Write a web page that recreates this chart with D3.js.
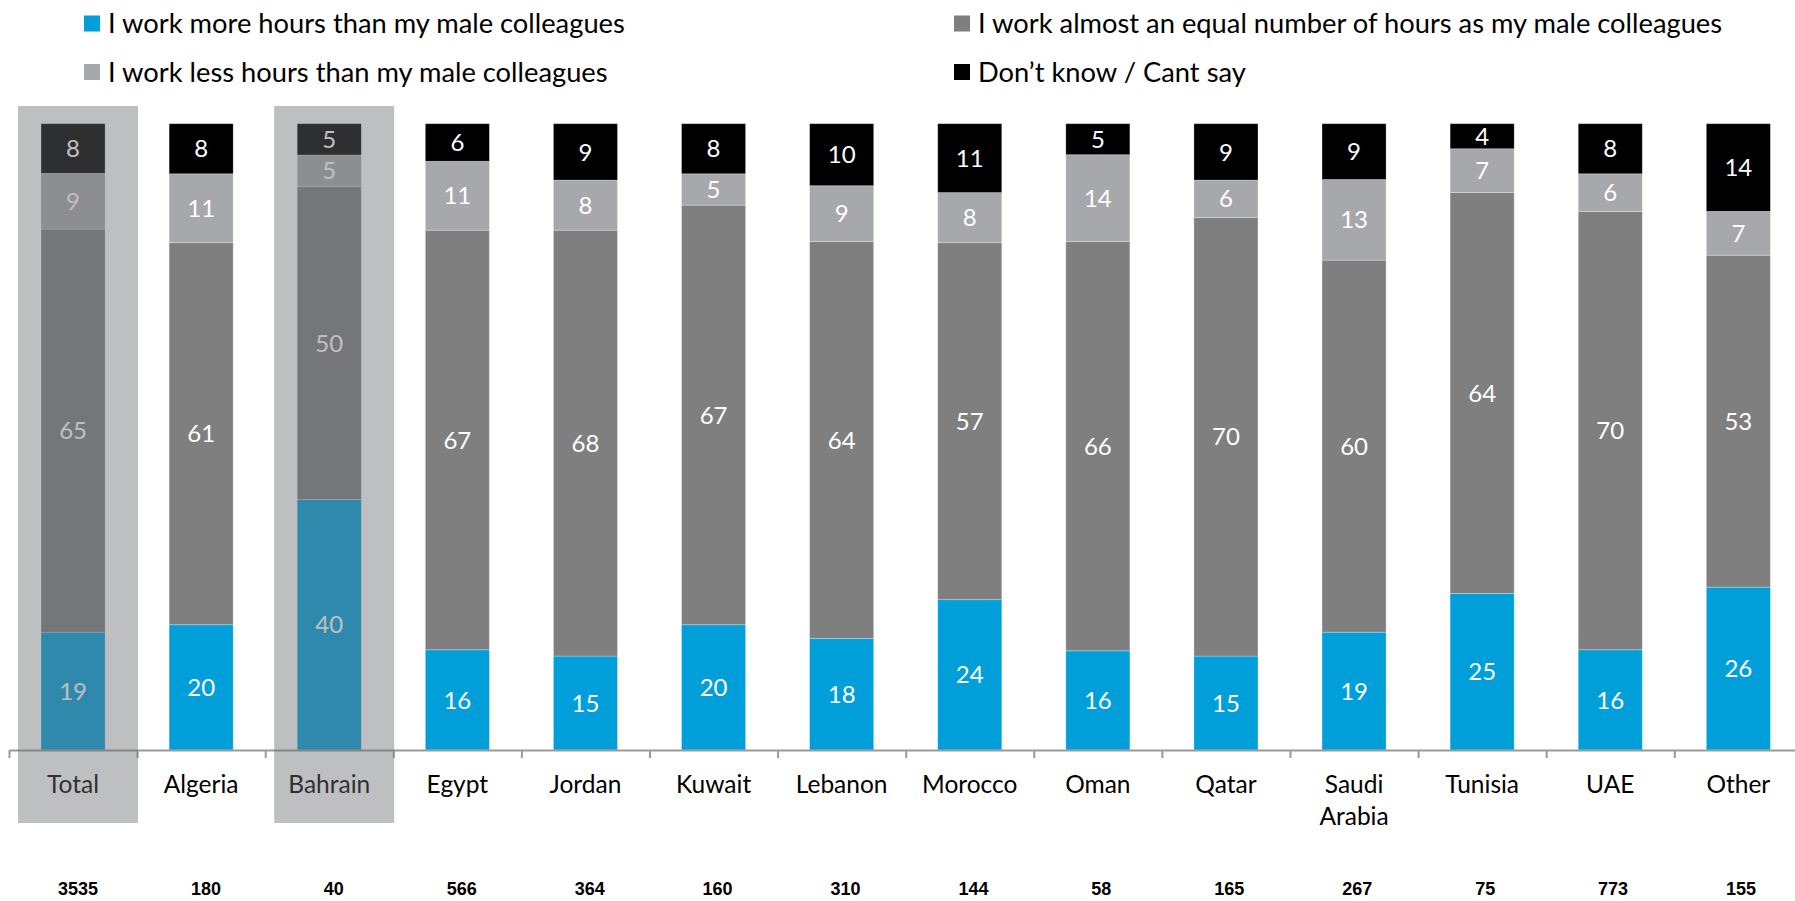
<!DOCTYPE html>
<html>
<head>
<meta charset="utf-8">
<script src="https://cdn.jsdelivr.net/npm/d3@7"></script>
<style>
  body { margin: 0; background: #ffffff; }
  svg { display: block; }
</style>
</head>
<body>
<svg id="chart" width="1795" height="901"></svg>
<script>
// Survey answers by country (percent of respondents)
const categories = ["Total", "Algeria", "Bahrain", "Egypt", "Jordan", "Kuwait", "Lebanon",
                    "Morocco", "Oman", "Qatar", "Saudi Arabia", "Tunisia", "UAE", "Other"];
const moreHours  = [19, 20, 40, 16, 15, 20, 18, 24, 16, 15, 19, 25, 16, 26];
const equalHours = [65, 61, 50, 67, 68, 67, 64, 57, 66, 70, 60, 64, 70, 53];
const lessHours  = [ 9, 11,  5, 11,  8,  5,  9,  8, 14,  6, 13,  7,  6,  7];
const dontKnow   = [ 8,  8,  5,  6,  9,  8, 10, 11,  5,  9,  9,  4,  8, 14];
const sampleSizes = [3535, 180, 40, 566, 364, 160, 310, 144, 58, 165, 267, 75, 773, 155];
const highlighted = ["Total", "Bahrain"];

const seriesKeys = ["more", "equal", "less", "dk"];
const seriesNames = [
  "I work more hours than my male colleagues",
  "I work almost an equal number of hours as my male colleagues",
  "I work less hours than my male colleagues",
  "Don\u2019t know / Cant say"
];
const seriesColors = ["#009fda", "#7f7f7f", "#a7a8ab", "#000000"];

const rows = categories.map((c, i) => ({
  category: c,
  more: moreHours[i],
  equal: equalHours[i],
  less: lessHours[i],
  dk: dontKnow[i],
  n: sampleSizes[i]
}));

const svg = d3.select("#chart");
const labelFont = "Lato, 'Open Sans', sans-serif";

const axisLeft = 9, step = 128.1;
const x = d3.scaleBand()
  .domain(categories)
  .range([axisLeft, axisLeft + step * categories.length])
  .paddingInner(0.5)
  .paddingOuter(0.25);

const baseY = 750, topY = 123.7;
const y = d3.scaleLinear().domain([0, 1]).range([baseY, topY]);

const color = d3.scaleOrdinal().domain(seriesKeys).range(seriesColors);

const stack = d3.stack().keys(seriesKeys).offset(d3.stackOffsetExpand);
const layers = stack(rows);

// Stacked bars
const gBars = svg.append("g");
const layerG = gBars.selectAll("g.layer")
  .data(layers)
  .join("g")
  .attr("class", "layer")
  .attr("fill", d => color(d.key));

layerG.selectAll("rect")
  .data(d => d)
  .join("rect")
  .attr("x", d => x(d.data.category))
  .attr("width", x.bandwidth())
  .attr("y", d => y(d[1]))
  .attr("height", d => y(d[0]) - y(d[1]))
  .attr("stroke", "#ffffff")
  .attr("stroke-opacity", 0.35)
  .attr("stroke-width", 0.8);

// Segment value labels
layers.forEach(layer => {
  gBars.append("g")
    .selectAll("text")
    .data(layer)
    .join("text")
    .attr("x", d => x(d.data.category) + x.bandwidth() / 2)
    .attr("y", d => (y(d[0]) + y(d[1])) / 2)
    .attr("dy", "0.36em")
    .attr("text-anchor", "middle")
    .attr("fill", "#ffffff")
    .style("font-family", labelFont)
    .style("font-size", "24px")
    .text(d => d.data[layer.key]);
});

// Category axis line with ticks between categories
const boundary = d3.scaleLinear()
  .domain([0, categories.length])
  .range([axisLeft, axisLeft + step * categories.length]);
const gAxis = svg.append("g")
  .attr("transform", `translate(0,${baseY})`)
  .call(d3.axisBottom(boundary)
    .tickValues(d3.range(categories.length + 1))
    .tickFormat("")
    .tickSizeInner(8)
    .tickSizeOuter(0));
gAxis.selectAll("path, line").attr("stroke", "#9a9a9a").attr("stroke-width", 2);

// Category names, wrapped onto two lines when too wide
const gNames = svg.append("g")
  .attr("transform", `translate(0,${baseY})`)
  .call(d3.axisBottom(x).tickSize(0).tickPadding(0));
gNames.select(".domain").remove();
gNames.selectAll("text")
  .attr("y", 34)
  .attr("dy", "0.36em")
  .attr("fill", "#000000")
  .style("font-family", labelFont)
  .style("font-size", "24.5px")
  .each(function (d) {
    const t = d3.select(this);
    const words = d.split(" ");
    if (words.length > 1 && this.getComputedTextLength() > step - 10) {
      t.text(null);
      words.forEach((w, i) => {
        t.append("tspan").attr("x", 0).attr("dy", i === 0 ? "0.36em" : "1.3em").text(w);
      });
    }
  });

// Sample sizes row
const xN = d3.scalePoint().domain(categories).range([78, 1741]);
svg.append("g")
  .selectAll("text")
  .data(rows)
  .join("text")
  .attr("x", d => xN(d.category))
  .attr("y", 895)
  .attr("text-anchor", "middle")
  .style("font-family", "'Liberation Sans', Arial, sans-serif")
  .style("font-weight", "bold")
  .style("font-size", "18px")
  .text(d => d.n);

// Translucent grey panels over the highlighted columns
svg.append("g")
  .selectAll("rect")
  .data(highlighted)
  .join("rect")
  .attr("x", d => x(d) - x.step() * x.paddingOuter() + 9)
  .attr("y", 106)
  .attr("width", 120)
  .attr("height", 717)
  .attr("fill", "rgb(106,108,112)")
  .attr("fill-opacity", 0.435);

// Legend: two columns, two rows
const legendCols = [84, 954], legendRows = [15.5, 64];
const legend = svg.append("g")
  .selectAll("g")
  .data(seriesKeys)
  .join("g")
  .attr("transform", (d, i) => `translate(${legendCols[i % 2]},${legendRows[i < 2 ? 0 : 1]})`);
legend.append("rect")
  .attr("width", 16)
  .attr("height", 16)
  .attr("fill", d => color(d));
legend.append("text")
  .attr("x", 24)
  .attr("y", 8)
  .attr("dy", "0.36em")
  .style("font-family", labelFont)
  .style("font-size", "27.3px")
  .attr("fill", "#000000")
  .text((d, i) => seriesNames[i]);
</script>
</body>
</html>
